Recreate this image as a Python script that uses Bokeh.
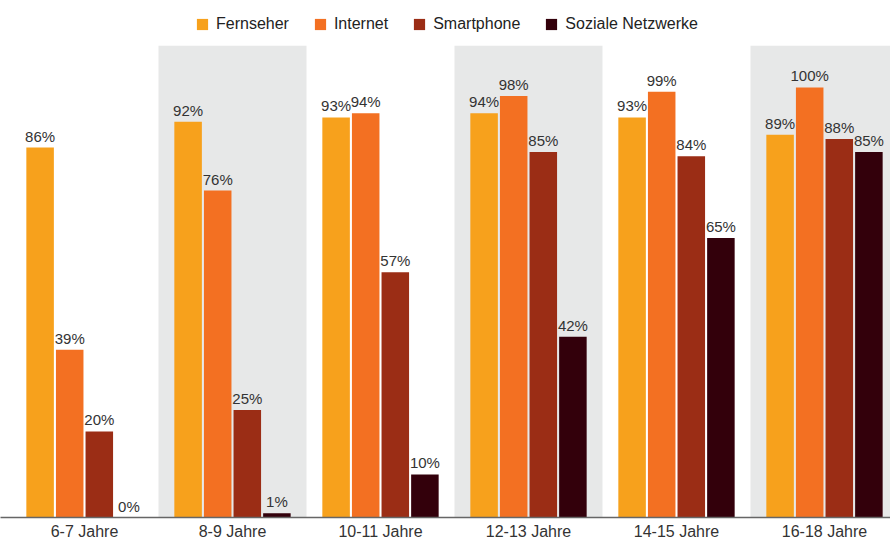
from bokeh.plotting import figure
from bokeh.models import ColumnDataSource, FixedTicker, Legend, LegendItem
from bokeh.embed import file_html
from bokeh.resources import INLINE
from bokeh.core.properties import value

groups = ["6-7 Jahre", "8-9 Jahre", "10-11 Jahre", "12-13 Jahre", "14-15 Jahre", "16-18 Jahre"]
series = ["Fernseher", "Internet", "Smartphone", "Soziale Netzwerke"]
fernseher = [86, 92, 93, 94, 93, 89]
internet = [39, 76, 94, 98, 99, 100]
smartphone = [20, 25, 57, 85, 84, 88]
soziale = [0, 1, 10, 42, 65, 85]
colors = ["#f7a11c", "#f37022", "#9b2d15", "#33000b"]

values = [fernseher, internet, smartphone, soziale]
offsets = [-0.3, -0.1, 0.1, 0.3]
FONT = "Liberation Sans"

p = figure(width=890, height=542, output_backend="svg", toolbar_location=None,
           x_range=(-0.0676, 5.946), y_range=(0, 120.2),
           min_border_left=0, min_border_right=0, min_border_top=0, min_border_bottom=0)
p.outline_line_color = None
p.xgrid.visible = False
p.ygrid.visible = False
p.yaxis.visible = False
p.background_fill_color = "white"

# shaded bands for alternate groups
band_idx = [i for i in range(len(groups)) if i % 2 == 1]
p.quad(left=[i for i in band_idx], right=[i + 1 for i in band_idx],
       bottom=0, top=109.7, fill_color="#e7e8e8", line_color=None)

renderers = []
for s, vals, off, col in zip(series, values, offsets, colors):
    xs = [i + 0.5 + off for i in range(len(groups))]
    src = ColumnDataSource(dict(x=xs, top=vals, lab=[f"{v}%" for v in vals]))
    r = p.vbar(x="x", top="top", width=0.186, bottom=0, source=src,
               fill_color=col, line_color=None)
    p.text(x="x", y="top", text="lab", source=src, text_align="center",
           text_baseline="bottom", y_offset=-3, text_font=value(FONT),
           text_font_size="15px", text_color="#333333")
    renderers.append((s, r))

p.xaxis.ticker = FixedTicker(ticks=[i + 0.5 for i in range(len(groups))])
p.xaxis.major_label_overrides = {i + 0.5: g for i, g in enumerate(groups)}
p.xaxis.major_tick_line_color = None
p.xaxis.major_tick_out = 0
p.xaxis.major_tick_in = 0
p.xaxis.minor_tick_line_color = None
p.xaxis.minor_tick_out = 0
p.xaxis.axis_line_color = "#666666"
p.xaxis.axis_line_width = 1.5
p.xaxis.major_label_text_font = FONT
p.xaxis.major_label_text_font_size = "16px"
p.xaxis.major_label_text_color = "#333333"
p.xaxis.major_label_standoff = 5

legend = Legend(items=[LegendItem(label=s, renderers=[r]) for s, r in renderers],
                orientation="horizontal", location=(195, 484),
                margin=0, padding=4, label_height=18, glyph_height=14, glyph_width=14,
                label_standoff=7, spacing=24, label_text_font=FONT,
                label_text_font_size="16px", label_text_color="#222222",
                background_fill_alpha=0, border_line_color=None)
p.add_layout(legend, "center")

open("out.html", "w").write(file_html(p, INLINE))
